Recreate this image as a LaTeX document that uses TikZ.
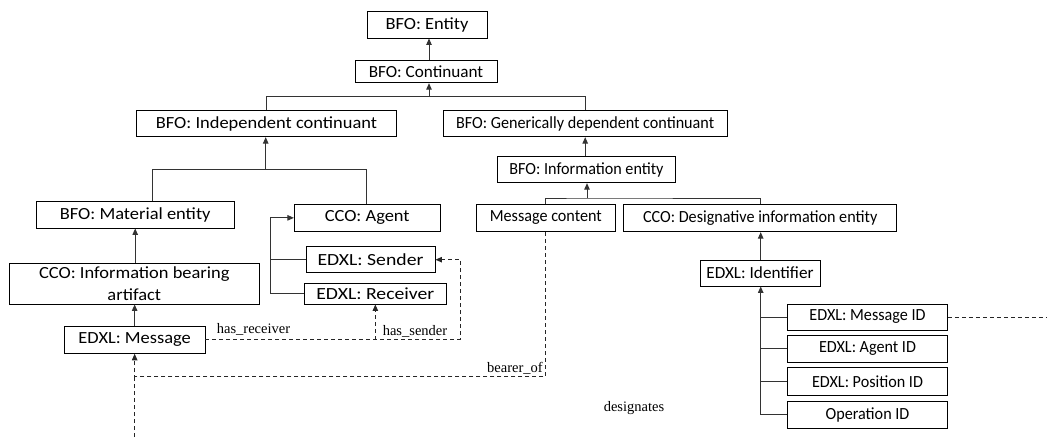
\documentclass[tikz,border=0pt]{standalone}
\usepackage{fontspec}
\usetikzlibrary{arrows.meta}
\newfontfamily\boxN[FakeStretch=0.95]{Carlito}
\newfontfamily\boxS[FakeStretch=1.01]{Carlito}
\newfontfamily\boxM[FakeStretch=1.085]{Carlito}
\newfontfamily\boxW[FakeStretch=1.16]{Carlito}
\newfontfamily\lblfam{Liberation Serif}
\begin{document}
\begin{tikzpicture}[x=1pt,y=-1pt,
  box/.style={draw=black, line width=0.9pt, fill=white, inner sep=0pt, align=center,
    font=\boxN\fontsize{17}{22}\selectfont},
  wS/.style={font=\boxS\fontsize{17}{22}\selectfont},
  wM/.style={font=\boxM\fontsize{17}{22}\selectfont},
  wW/.style={font=\boxW\fontsize{17}{22}\selectfont},
  tree/.style={draw=black!80, line width=1pt},
  arr/.style={-{Triangle[length=6.5pt,width=5.5pt]}},
  dsh/.style={draw=black!85, line width=0.9pt, dash pattern=on 4pt off 3pt},
  lbl/.style={inner sep=0pt, font=\lblfam\fontsize{14.5}{16}\selectfont}]
\useasboundingbox (0,0) rectangle (1047,437);
% nodes
\node[box, wM, minimum width=120, minimum height=26.3] (entity) at (427,24.85) {BFO: Entity};
\node[box, wS, minimum width=142, minimum height=22] (cont) at (426,71.7) {BFO: Continuant};
\node[box, wM, minimum width=259.6, minimum height=26] (indep) at (266.5,123.7) {BFO: Independent continuant};
\node[box, minimum width=283.7, minimum height=26] (gdc) at (585.2,123.7) {BFO: Generically dependent continuant};
\node[box, minimum width=178.4, minimum height=26] (info) at (586.5,169.7) {BFO: Information entity};
\node[box, wM, minimum width=198.3, minimum height=26.3] (mat) at (135.2,214.85) {BFO: Material entity};
\node[box, wM, minimum width=145.7, minimum height=27.7] (agent) at (367.2,217.85) {CCO: Agent};
\node[box, minimum width=139.7, minimum height=27.7] (msgc) at (545.85,217.85) {Message content};
\node[box, minimum width=273, minimum height=27.7] (die) at (760.2,217.85) {CCO: Designative information entity};
\node[box, wM, minimum width=250, minimum height=40.7] (iba) at (134.3,283.65) {CCO: Information bearing\\artifact};
\node[box, wW, minimum width=129, minimum height=26] (sender) at (370.5,259.7) {EDXL: Sender};
\node[box, wW, minimum width=142.7, minimum height=21] (receiver) at (375.35,293.5) {EDXL: Receiver};
\node[box, wM, minimum width=140.7, minimum height=27.3] (message) at (134.65,339.65) {EDXL: Message};
\node[box, wS, minimum width=120, minimum height=26] (ident) at (760,273) {EDXL: Identifier};
\node[box, minimum width=159.6, minimum height=26] (msgid) at (867.5,317) {EDXL: Message ID};
\node[box, minimum width=159.6, minimum height=27.7] (agentid) at (867.5,348.85) {EDXL: Agent ID};
\node[box, minimum width=159.6, minimum height=27.3] (posid) at (867.5,381.35) {EDXL: Position ID};
\node[box, minimum width=159.6, minimum height=27.3] (opid) at (867.5,414.65) {Operation ID};
% junction coordinates
\coordinate (j0) at (429,96.7);
\coordinate (j1) at (587,198);
\coordinate (j2) at (265.7,169.3);
\coordinate (j2l) at (152.3,169.3);
\coordinate (j2r) at (366.7,169.3);
\coordinate (j3) at (270,0);
\coordinate (d1) at (460,0);
\coordinate (d3) at (0,376.7);
\coordinate (bot) at (0,437);
\coordinate (j4) at (760.7,0);
\coordinate (rend) at (1046,0);
% tree connectors
\draw[tree,arr] (cont.north -| j0) -- (entity.south -| j0);
\draw[tree,arr] (j0) -- (cont.south -| j0);
\draw[tree] (indep.north) |- (j0) -| (gdc.north);
\draw[tree,arr] (info.north -| gdc.south) -- (gdc.south);
\draw[tree,arr] (j1) -- (j1 |- info.south);
\draw[tree] (msgc.north) |- (j1) -| (die.north);
\draw[tree,arr] (j2) -- (j2 |- indep.south);
\draw[tree] (j2l |- mat.north) -- (j2l) -- (j2r) -- (j2r |- agent.north);
\draw[tree,arr] (iba.north -| mat.south) -- (mat.south);
\draw[tree,arr] (message.north) -- (message.north |- iba.south);
\draw[tree,arr] (receiver.west) -- (receiver.west -| j3) -- (agent.west -| j3) -- (agent.west);
\draw[tree] (sender.west) -- (sender.west -| j3);
\draw[tree,arr] (ident.north -| j4) -- (die.south -| j4);
\draw[tree,arr] (opid.west) -- (opid.west -| j4) -- (j4 |- ident.south);
\draw[tree] (msgid.west) -- (msgid.west -| j4);
\draw[tree] (agentid.west) -- (agentid.west -| j4);
\draw[tree] (posid.west) -- (posid.west -| j4);
% dashed relations
\draw[dsh,arr] (message.east) -- (message.east -| d1) -- (sender.east -| d1) -- (sender.east);
\draw[dsh,arr] (receiver.south |- message.east) -- (receiver.south);
\draw[dsh,arr] (msgc.south) -- (msgc.south |- d3) -- (message.south |- d3) -- (message.south);
\draw[dsh] (message.south |- bot) -- (message.south |- d3);
\draw[dsh] (msgid.east) -- (msgid.east -| rend);
% labels
\node[lbl] (lrec) at (253.5,329.3) {has\_receiver};
\node[lbl] (lsen) at (415,331.7) {has\_sender};
\node[lbl] (lbear) at (515,368.3) {bearer\_of};
\node[lbl] (ldes) at (634,408) {designates};
\end{tikzpicture}
\end{document}
